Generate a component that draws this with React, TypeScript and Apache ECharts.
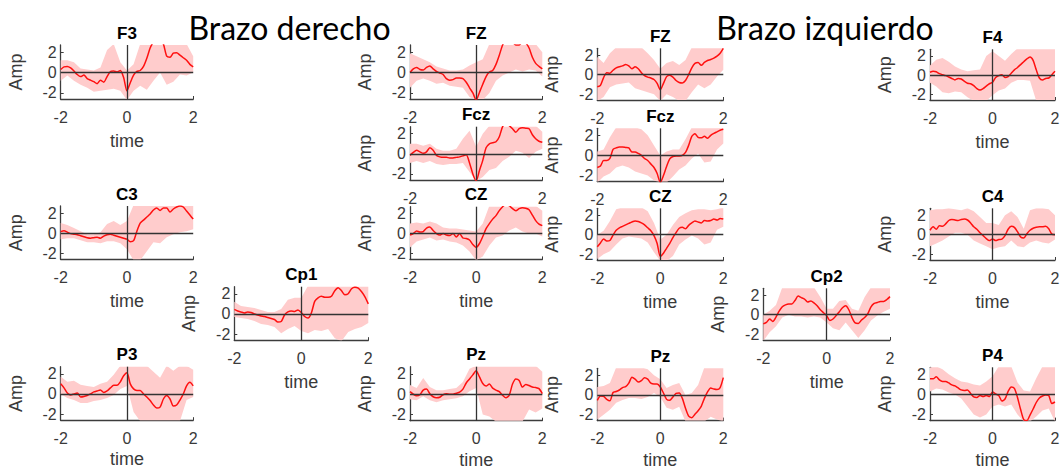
import React, { useEffect, useRef } from 'react';
import * as echarts from 'echarts';

// ---------- data ----------
const time = [-2.0,-1.9,-1.8,-1.7,-1.6,-1.5,-1.4,-1.3,-1.2,-1.1,-1.0,-0.9,-0.8,-0.7,-0.6,-0.5,-0.4,-0.3,-0.2,-0.1,0.0,0.1,0.2,0.3,0.4,0.5,0.6,0.7,0.8,0.9,1.0,1.1,1.2,1.3,1.4,1.5,1.6,1.7,1.8,1.9,2.0];
const bandTime = [-2.0,-1.8,-1.6,-1.4,-1.2,-1.0,-0.8,-0.6,-0.4,-0.2,0.0,0.2,0.4,0.6,0.8,1.0,1.2,1.4,1.6,1.8,2.0];
const xTicks = [-2, 0, 2];
const yTicks = [-2, 0, 2];

// Brazo derecho
const f3Mean = [0.3,0.55,0.6,0.45,0.15,-0.2,-0.4,-0.25,-0.6,-0.75,-0.9,-1.1,-0.75,-0.95,-0.4,0.1,0.15,0.05,0.2,-0.5,-1.8,-1.0,-0.25,0.1,0.2,0.6,1.4,2.4,3.0,3.3,3.2,2.8,1.6,1.5,1.9,1.95,1.7,1.45,1.2,0.8,0.55];
const f3Upper = [1.2,1.2,1.0,0.4,0.3,0.2,0.5,2.2,2.8,1.0,0.2,0.8,2.8,2.8,2.8,2.8,2.8,2.8,2.8,2.8,1.6];
const f3Lower = [-0.8,-0.3,-0.8,-1.2,-1.5,-1.9,-1.8,-1.7,-1.6,-1.8,-2.7,-1.8,-1.3,-1.7,-0.8,0.0,-1.2,-0.9,-0.2,-0.3,0.0];

const c3Mean = [0.15,0.25,0.1,-0.05,-0.1,-0.15,-0.25,-0.35,-0.45,-0.5,-0.45,-0.4,-0.5,-0.3,-0.15,-0.1,-0.2,-0.3,-0.4,-0.5,-0.6,-0.85,-0.75,0.2,1.0,1.3,1.6,1.9,2.3,2.5,2.25,2.5,2.5,2.1,2.4,2.6,2.7,2.6,2.2,1.8,1.4];
const c3Upper = [1.0,0.8,0.5,0.2,-0.1,-0.1,0.1,0.9,1.2,0.8,1.2,2.8,2.8,2.8,2.8,2.8,2.8,2.8,2.8,2.8,2.8];
const c3Lower = [-0.6,-0.5,-0.5,-0.7,-0.9,-0.9,-1.0,-0.8,-0.8,-1.0,-1.6,-2.7,-2.7,-1.8,-0.9,-1.0,-0.4,-0.1,0.1,0.2,0.4];

const p3Mean = [1.0,0.6,0.1,-0.1,0.0,0.1,-0.3,-0.25,-0.15,0.0,0.2,0.3,0.4,0.15,0.3,0.6,0.85,0.85,1.2,1.8,2.1,1.0,0.5,0.35,0.35,0.0,-0.3,-0.65,-1.1,-1.4,-1.3,-0.5,-0.15,-0.5,-1.2,-1.1,-0.6,0.0,0.8,1.15,0.8];
const p3Upper = [1.7,1.2,1.3,0.9,0.8,0.7,1.0,1.2,1.9,2.8,2.8,2.8,2.8,2.8,2.2,1.6,2.8,2.3,2.8,2.8,2.4];
const p3Lower = [0.0,-0.4,-0.6,-0.9,-0.9,-0.7,-0.6,-0.4,-0.1,0.5,0.8,-1.8,-2.7,-2.7,-2.7,-2.7,-2.7,-2.7,-2.7,-0.6,-0.3];

const cp1Mean = [0.45,0.3,0.2,0.1,0.2,0.15,0.0,-0.1,-0.2,-0.25,-0.35,-0.45,-0.55,-0.8,-0.75,-0.1,0.2,0.3,0.25,0.4,0.15,-0.25,-0.4,0.1,1.25,1.6,1.75,1.65,1.65,1.75,2.3,2.6,2.3,1.9,2.0,2.5,2.65,2.55,2.2,1.7,1.0];
const cp1Upper = [1.2,0.8,0.7,0.6,0.4,0.2,0.2,0.5,1.4,1.6,1.6,2.8,2.8,2.8,2.8,2.8,2.8,2.8,2.8,2.8,2.8];
const cp1Lower = [-0.3,-0.4,-0.5,-0.7,-1.0,-1.1,-1.3,-1.9,-1.5,-1.2,-1.7,-1.9,-1.6,-1.7,-1.5,-2.4,-2.7,-1.8,-1.5,-1.3,-0.9];

const fzRMean = [0.0,0.35,0.5,0.3,0.25,0.5,0.65,0.35,0.1,-0.05,-0.2,-0.6,-0.75,-0.7,-0.55,-0.55,-0.6,-0.95,-1.5,-2.0,-2.7,-1.95,-1.15,-0.4,0.05,0.2,0.8,1.7,2.7,3.2,3.3,3.0,2.7,2.7,3.0,2.9,2.4,1.5,0.9,0.6,0.35];
const fzRUpper = [1.9,1.6,1.3,1.0,0.6,0.4,0.2,0.2,0.3,0.7,1.0,1.3,2.8,2.8,2.8,2.8,2.8,2.8,2.8,2.8,2.0];
const fzRLower = [-1.5,-0.8,-0.6,-0.8,-1.1,-1.0,-1.3,-1.4,-1.5,-2.4,-2.7,-2.7,-2.0,-0.8,-0.3,0.0,0.3,0.1,0.3,0.2,-0.4];

const fczRMean = [-0.15,0.15,0.35,0.2,0.05,0.2,0.6,0.35,-0.15,-0.3,-0.35,-0.35,-0.4,-0.4,-0.35,-0.3,-0.2,-0.1,-0.9,-2.0,-2.7,-1.65,-0.65,0.6,1.0,1.1,1.2,1.7,2.7,3.0,2.8,2.5,2.15,2.5,2.6,2.55,2.5,1.9,1.5,1.25,1.15];
const fczRUpper = [1.0,1.0,0.8,1.0,0.5,0.3,0.3,0.5,1.5,2.3,0.7,2.0,2.8,2.8,2.8,2.8,2.8,2.8,2.8,2.8,2.2];
const fczRLower = [-0.9,-0.7,-0.9,-0.7,-1.0,-1.1,-1.0,-1.0,-0.9,-1.8,-2.7,-2.3,-1.6,-1.4,-0.7,-0.3,0.3,0.1,-0.4,0.2,0.5];

const czRMean = [-0.15,0.0,0.25,0.15,0.2,0.55,0.65,0.3,0.0,-0.15,0.0,-0.15,-0.2,0.0,-0.35,0.0,-0.45,-0.5,-0.65,-1.1,-1.4,-1.0,-0.3,0.5,1.0,1.45,1.8,2.3,2.7,2.9,2.8,2.5,2.3,2.5,2.6,2.55,2.4,1.85,1.3,0.95,0.8];
const czRUpper = [1.0,1.1,1.0,1.2,1.0,0.6,0.5,0.5,0.4,0.3,0.2,1.0,2.8,2.8,2.8,2.8,2.8,2.8,2.8,2.8,2.3];
const czRLower = [-1.4,-0.8,-0.6,-0.4,-0.7,-0.6,-0.8,-0.9,-1.2,-1.8,-2.7,-2.3,-1.2,-0.4,-0.2,0.3,0.6,0.2,0.0,0.0,-0.3];

const pzRMean = [0.25,0.0,-0.15,-0.05,0.4,0.5,0.05,-0.25,-0.35,-0.3,-0.05,0.05,0.0,0.0,0.1,0.2,0.5,1.1,1.5,1.9,2.3,1.7,1.05,0.8,1.0,0.6,0.4,0.25,-0.1,-0.35,-0.1,1.0,1.5,1.35,0.7,0.95,0.85,0.7,0.65,0.55,0.05];
const pzRUpper = [0.9,0.6,1.6,0.7,0.4,0.4,0.5,0.6,1.2,2.5,2.8,2.8,2.8,2.8,2.8,2.8,2.8,2.8,2.8,2.8,2.2];
const pzRLower = [-0.5,-0.6,-0.2,-0.6,-0.8,-0.6,-0.5,-0.4,-0.2,0.3,0.6,-2.0,-2.2,-2.7,-2.7,-2.7,-2.7,-2.7,-1.5,-1.8,-1.4];

// Brazo izquierdo
const fzLMean = [-1.25,-1.1,-0.3,0.2,0.15,0.45,0.7,0.8,0.9,1.05,0.9,0.6,0.8,0.6,0.2,-0.1,-0.25,-0.35,-0.5,-0.9,-1.55,-0.9,-0.2,-0.05,-0.25,-0.6,-0.8,-0.85,-0.6,0.0,0.7,1.15,1.25,0.95,1.25,1.45,1.55,1.7,1.9,2.2,2.7];
const fzLUpper = [1.8,1.2,2.2,2.8,2.8,2.8,2.8,2.8,2.2,1.5,0.6,1.2,1.4,1.0,1.5,2.8,2.8,2.8,2.8,2.8,2.8];
const fzLLower = [-2.7,-2.3,-1.3,-1.0,-0.9,-0.8,-1.4,-1.6,-1.8,-2.0,-2.7,-2.0,-2.3,-2.7,-2.7,-1.8,-1.0,-1.4,-1.0,-0.2,0.5];

const fczLMean = [-1.2,-1.05,-0.5,-0.5,-0.3,0.6,0.75,0.85,0.85,0.8,0.75,0.35,0.35,0.2,0.0,-0.3,-0.5,-0.85,-1.2,-1.8,-2.7,-2.0,-1.1,-0.35,-0.1,-0.05,-0.05,0.0,0.3,1.0,1.9,2.15,1.8,1.75,1.9,1.7,2.0,2.2,2.35,2.5,2.6];
const fczLUpper = [0.4,0.6,1.8,2.8,2.8,2.8,2.8,2.6,2.0,1.0,0.0,0.4,0.6,0.6,1.6,2.8,2.8,2.8,2.8,2.8,2.8];
const fczLLower = [-2.7,-2.1,-1.8,-1.2,-1.0,-1.2,-1.6,-1.8,-2.0,-2.5,-2.7,-2.7,-2.1,-1.4,-1.0,-0.3,0.2,-0.7,-0.6,0.6,1.2];

const czLMean = [-1.25,-0.85,-0.45,-0.65,-0.6,-0.05,0.45,0.7,0.85,1.0,1.15,1.3,1.4,1.35,1.2,1.0,0.7,0.4,-0.1,-0.9,-2.25,-1.9,-1.4,-0.9,-0.3,0.2,0.65,0.75,0.6,0.95,1.2,1.4,1.3,1.2,1.45,1.4,1.45,1.6,1.5,1.65,1.6];
const czLUpper = [0.0,0.4,1.4,2.6,2.8,2.8,2.8,2.8,2.4,1.2,-0.5,0.0,1.0,1.8,2.2,2.5,2.6,2.6,2.5,2.6,2.8];
const czLLower = [-2.5,-2.0,-1.7,-1.0,-0.4,-0.2,-0.3,-0.4,-0.8,-1.8,-2.7,-2.7,-2.2,-1.0,-0.5,-0.1,-0.4,-1.0,-0.8,0.5,0.8];

const pzLMean = [-0.55,-0.1,-0.15,-0.45,-0.6,0.25,0.35,0.5,0.75,0.85,1.2,1.8,1.6,1.3,1.45,1.75,1.6,1.2,1.1,1.1,0.8,0.2,-0.45,-0.55,-0.2,0.15,0.2,-0.35,-1.35,-2.15,-2.3,-1.95,-1.6,-1.15,-0.35,0.3,0.7,0.6,0.55,0.75,1.75];
const pzLUpper = [0.8,0.9,1.2,2.8,2.8,2.8,2.8,2.8,2.6,2.0,1.6,0.7,1.0,1.2,0.0,0.2,1.0,2.8,2.8,2.8,2.8];
const pzLLower = [-2.5,-2.0,-1.5,-0.8,-0.5,-0.3,-0.3,-0.4,-0.2,0.2,-0.2,-1.3,-1.5,-1.2,-2.7,-2.7,-2.7,-2.7,-2.2,-2.5,-2.7];

const cp2Mean = [-0.95,-0.8,-0.45,-0.7,-0.25,0.35,0.8,1.0,1.1,1.1,1.45,1.9,1.75,1.6,1.3,1.4,1.2,0.9,0.5,0.2,-0.1,-0.6,-0.45,-0.1,0.3,0.7,0.9,0.5,-0.3,-0.85,-0.9,-0.55,-0.3,0.1,0.8,1.15,1.25,1.35,1.35,1.55,1.85];
const cp2Upper = [0.0,0.4,1.0,2.8,2.8,2.8,2.8,2.8,2.8,1.8,0.6,0.6,1.4,1.5,0.6,0.4,1.8,2.8,2.8,2.8,2.8];
const cp2Lower = [-2.7,-1.8,-1.2,-0.3,0.0,-0.2,-0.2,-0.3,-0.2,-0.3,-0.8,-1.4,-1.6,-0.8,-1.6,-2.4,-1.6,-0.6,-0.1,0.3,0.6];

const f4Mean = [0.3,0.4,0.35,0.15,0.05,-0.05,-0.2,-0.35,-0.5,-0.35,-0.4,-0.65,-0.85,-0.9,-1.1,-1.4,-1.55,-1.4,-1.15,-0.9,-0.75,-0.25,-0.05,0.05,-0.25,-0.15,0.2,0.55,0.8,1.1,1.4,1.7,1.9,1.55,0.55,-0.3,-0.5,-0.35,-0.3,0.05,0.4];
const f4Upper = [1.0,1.6,1.8,1.4,0.9,0.6,0.4,0.5,0.6,2.0,2.5,2.0,1.5,2.2,2.8,2.8,2.8,2.8,2.8,2.8,2.8];
const f4Lower = [-0.8,-1.2,-1.8,-1.9,-1.7,-1.8,-2.3,-2.7,-2.7,-2.7,-2.1,-1.6,-1.4,-0.8,-0.5,-0.5,-0.6,-2.7,-2.7,-2.7,-2.7];

const c4Mean = [0.45,0.8,0.55,0.9,0.85,1.1,1.45,1.55,1.5,1.45,1.55,1.6,1.5,1.2,0.8,0.55,0.2,-0.1,-0.4,-0.6,-0.45,-0.6,-0.5,-0.45,-0.1,0.55,0.85,0.75,0.3,-0.25,-0.35,0.1,0.45,0.65,0.75,0.8,0.8,0.85,0.6,0.05,0.0];
const c4Upper = [2.5,2.6,2.6,2.7,2.6,2.5,2.7,2.4,1.8,1.2,1.2,1.0,2.0,2.4,1.8,0.6,2.5,2.7,2.7,2.6,2.0];
const c4Lower = [-1.2,-0.9,-0.6,-0.2,0.2,0.2,0.0,-0.6,-0.9,-1.2,-1.5,-1.3,-1.2,-0.6,-1.2,-1.3,-0.8,-0.6,-0.8,-0.9,-0.5];

const p4Mean = [1.55,1.55,1.75,1.45,1.3,1.3,1.15,0.95,0.85,0.65,0.45,0.4,0.45,0.1,-0.25,-0.3,-0.1,-0.2,-0.1,-0.2,0.25,0.05,-0.1,-0.65,-0.45,0.3,0.75,0.6,-0.3,-1.5,-2.5,-2.6,-2.05,-1.45,-0.8,-0.35,-0.15,-0.05,-0.1,-0.9,-0.75];
const p4Upper = [2.7,2.8,2.5,2.0,1.6,1.3,1.2,1.0,0.9,1.3,1.8,2.8,2.8,2.8,1.2,0.4,0.3,1.6,2.8,2.8,2.8];
const p4Lower = [0.3,0.6,0.5,0.2,0.0,-0.4,-1.2,-2.0,-2.3,-2.0,-1.2,-1.0,-1.2,-1.0,-2.0,-2.7,-2.7,-2.2,-1.6,-1.4,-2.7];

// ---------- layout ----------
const panels = [
  { name: 'F3', mean: f3Mean, upper: f3Upper, lower: f3Lower, left: 60.7, top: 45, width: 132.5, height: 54, full: true },
  { name: 'C3', mean: c3Mean, upper: c3Upper, lower: c3Lower, left: 60.7, top: 206, width: 132.5, height: 53.3, full: true },
  { name: 'P3', mean: p3Mean, upper: p3Upper, lower: p3Lower, left: 60.7, top: 366.7, width: 132.5, height: 53.5, full: true },
  { name: 'Cp1', mean: cp1Mean, upper: cp1Upper, lower: cp1Lower, left: 234.3, top: 286.7, width: 134, height: 53.5, full: true },
  { name: 'FZ', mean: fzRMean, upper: fzRUpper, lower: fzRLower, left: 410, top: 45, width: 132.3, height: 54, full: false },
  { name: 'Fcz', mean: fczRMean, upper: fczRUpper, lower: fczRLower, left: 410, top: 126.7, width: 132.3, height: 53.3, full: false },
  { name: 'CZ', mean: czRMean, upper: czRUpper, lower: czRLower, left: 410, top: 206.7, width: 132.3, height: 52.7, full: true },
  { name: 'Pz', mean: pzRMean, upper: pzRUpper, lower: pzRLower, left: 410, top: 366.7, width: 132.3, height: 54, full: true },
  { name: 'FZ', mean: fzLMean, upper: fzLUpper, lower: fzLLower, left: 597.3, top: 48.3, width: 126, height: 51.7, full: false },
  { name: 'Fcz', mean: fczLMean, upper: fczLUpper, lower: fczLLower, left: 597.3, top: 128.3, width: 126, height: 53.3, full: false },
  { name: 'CZ', mean: czLMean, upper: czLUpper, lower: czLLower, left: 597.3, top: 208.3, width: 126, height: 51.7, full: true },
  { name: 'Pz', mean: pzLMean, upper: pzLUpper, lower: pzLLower, left: 597.3, top: 368.3, width: 126, height: 52.3, full: true },
  { name: 'Cp2', mean: cp2Mean, upper: cp2Upper, lower: cp2Lower, left: 763.3, top: 288.3, width: 126.7, height: 51.7, full: true },
  { name: 'F4', mean: f4Mean, upper: f4Upper, lower: f4Lower, left: 930, top: 49.3, width: 125, height: 50.7, full: true },
  { name: 'C4', mean: c4Mean, upper: c4Upper, lower: c4Lower, left: 930, top: 208.3, width: 125, height: 51.7, full: true },
  { name: 'P4', mean: p4Mean, upper: p4Upper, lower: p4Lower, left: 930, top: 367.3, width: 125, height: 53.3, full: true },
];

const FONT = '"Liberation Sans", Arial, sans-serif';
const AXIS_COLOR = '#3c3c3c';
const LABEL_COLOR = '#3a3a3a';
const BAND_COLOR = '#ffcccc';
const LINE_COLOR = '#ff1010';
const Y_MIN = -2.6;
const Y_MAX = 2.7;

function buildOption() {
  const grid = panels.map((p) => ({
    left: p.left, top: p.top, width: p.width, height: p.height,
    containLabel: false, outerBoundsMode: 'none',
  }));
  const xAxis = panels.map((p, i) => ({
    gridIndex: i, type: 'value', min: -2, max: 2, interval: 2,
    axisLine: { onZero: false, lineStyle: { color: AXIS_COLOR, width: 1.3 } },
    axisTick: { inside: true, length: 3, lineStyle: { color: AXIS_COLOR } },
    splitLine: { show: false },
    axisLabel: {
      margin: 10, fontSize: 16, color: LABEL_COLOR, fontFamily: FONT,
      formatter: (v: number) => (p.full || v !== 0 ? String(v) : ''),
      customValues: p.full ? xTicks : [-2, 2],
    },
    name: p.full ? 'time' : '',
    nameLocation: 'middle', nameGap: p.top + p.height > 400 ? 30 : 33,
    nameTextStyle: { fontSize: 18, color: LABEL_COLOR, fontFamily: FONT },
  }));
  const yAxis = panels.map((p, i) => ({
    gridIndex: i, type: 'value', min: Y_MIN, max: Y_MAX,
    axisLine: { show: true, onZero: false, lineStyle: { color: AXIS_COLOR, width: 1.3 } },
    axisTick: { show: true, inside: true, length: 3, customValues: yTicks, lineStyle: { color: AXIS_COLOR } },
    splitLine: { show: false },
    axisLabel: { margin: 4, fontSize: 16, color: LABEL_COLOR, fontFamily: FONT, customValues: yTicks },
    name: 'Amp', nameLocation: 'middle', nameRotate: 90, nameGap: 36,
    nameTextStyle: { fontSize: 18, color: LABEL_COLOR, fontFamily: FONT },
  }));
  const series: any[] = [];
  panels.forEach((p, i) => {
    series.push({
      type: 'custom', xAxisIndex: i, yAxisIndex: i, clip: true, silent: true, z: 1,
      data: bandTime.map((t, k) => [t, p.lower[k], p.upper[k]]),
      encode: { x: 0, y: [1, 2] },
      renderItem: (params: any, api: any) => {
        if (params.dataIndex !== 0) return null;
        const pts: number[][] = [];
        for (let k = 0; k < bandTime.length; k++) pts.push(api.coord([bandTime[k], p.upper[k]]));
        for (let k = bandTime.length - 1; k >= 0; k--) pts.push(api.coord([bandTime[k], p.lower[k]]));
        return { type: 'polygon', shape: { points: pts }, style: { fill: BAND_COLOR } };
      },
    });
    series.push({
      type: 'line', xAxisIndex: i, yAxisIndex: i, z: 3,
      data: time.map((t, k) => [t, p.mean[k]]),
      showSymbol: false, symbol: 'none', smooth: 0.25, silent: true,
      lineStyle: { color: LINE_COLOR, width: 1.5 },
      markLine: {
        silent: true, symbol: ['none', 'none'], label: { show: false },
        lineStyle: { color: '#333333', width: 1.3, type: 'solid' },
        data: [{ yAxis: 0 }, { xAxis: 0 }],
      },
    });
  });
  const titleTexts = panels.map((p) => ({
    type: 'text', x: p.left + p.width / 2, y: p.top - 12,
    style: {
      text: p.name, font: `bold 17px ${FONT}`, fill: '#000',
      align: 'center', verticalAlign: 'middle', textAlign: 'center', textVerticalAlign: 'middle',
    },
  }));
  const bigTitles = [
    { text: 'Brazo derecho', x: 289.5 },
    { text: 'Brazo izquierdo', x: 825 },
  ].map((t) => ({
    type: 'text', x: t.x, y: 27,
    style: {
      text: t.text, font: '32px Lato, "Open Sans", sans-serif', fill: '#000',
      align: 'center', verticalAlign: 'middle', textAlign: 'center', textVerticalAlign: 'middle',
    },
  }));
  return {
    animation: false,
    backgroundColor: '#ffffff',
    grid, xAxis, yAxis, series,
    graphic: [...titleTexts, ...bigTitles],
  };
}

export default function App() {
  const ref = useRef<HTMLDivElement>(null);
  useEffect(() => {
    if (!ref.current) return;
    const chart = echarts.init(ref.current, null, { renderer: 'svg' });
    chart.setOption(buildOption() as any);
    return () => chart.dispose();
  }, []);
  return <div ref={ref} style={{ position: 'absolute', left: 0, top: 0, width: 1061, height: 471 }} />;
}
